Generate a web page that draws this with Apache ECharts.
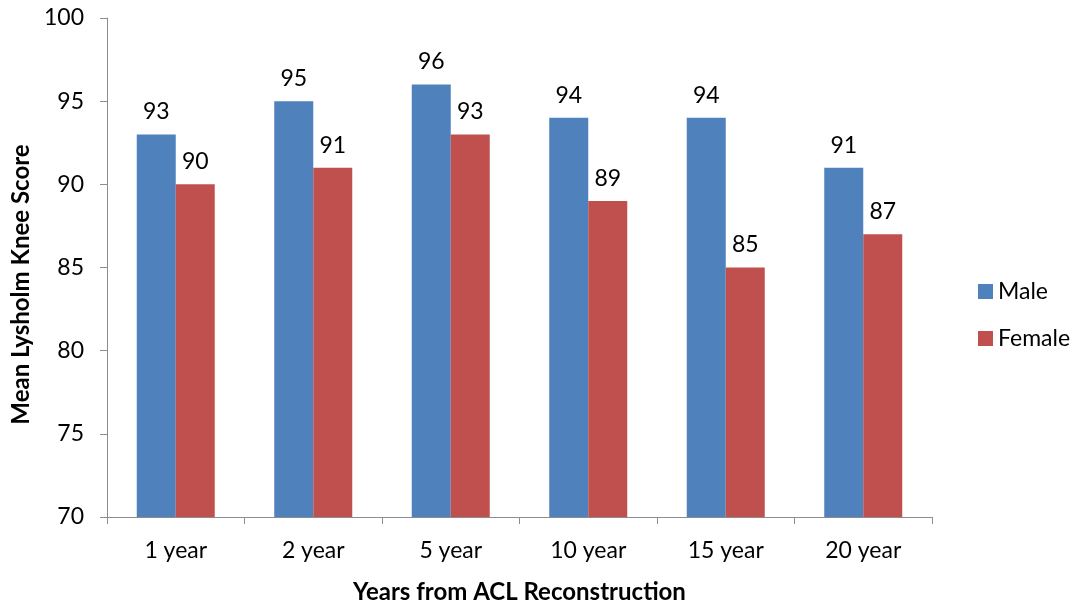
<!DOCTYPE html>
<html>
<head>
<meta charset="utf-8">
<script src="https://cdn.jsdelivr.net/npm/echarts@6/dist/echarts.min.js"></script>
<style>
  html, body { margin: 0; padding: 0; background: #fff; }
  #chart { width: 1078px; height: 609px; }
</style>
</head>
<body>
<div id="chart"></div>
<script>
// Mean Lysholm knee score by years since ACL reconstruction
const categories = ['1 year', '2 year', '5 year', '10 year', '15 year', '20 year'];
const maleScores = [93, 95, 96, 94, 94, 91];
const femaleScores = [90, 91, 93, 89, 85, 87];

const FONT = 'Lato, "Open Sans", sans-serif';
const axisGray = '#8c8c8c';

const chart = echarts.init(document.getElementById('chart'));

const labelStyle = {
  show: true,
  position: 'top',
  distance: 11,
  color: '#000',
  fontFamily: FONT,
  fontSize: 23
};

chart.setOption({
  animation: false,
  textStyle: { fontFamily: FONT },
  grid: { left: 107, right: 146, top: 18, bottom: 92, containLabel: false },
  legend: {
    orient: 'vertical',
    left: 973,
    top: 275,
    itemWidth: 15,
    itemHeight: 15,
    itemGap: 24,
    icon: 'rect',
    textStyle: { fontFamily: FONT, fontSize: 23, color: '#000' },
    data: ['Male', 'Female']
  },
  xAxis: {
    type: 'category',
    data: categories,
    name: 'Years from ACL Reconstruction',
    nameLocation: 'middle',
    nameGap: 63,
    nameTextStyle: { fontFamily: FONT, fontSize: 24, fontWeight: 'bold', color: '#000' },
    axisLine: { lineStyle: { color: axisGray, width: 1 } },
    axisTick: { show: true, length: 7, lineStyle: { color: axisGray } },
    axisLabel: { margin: 22, fontFamily: FONT, fontSize: 23, color: '#000' }
  },
  yAxis: {
    type: 'value',
    min: 70,
    max: 100,
    interval: 5,
    name: 'Mean Lysholm Knee Score',
    nameLocation: 'middle',
    nameGap: 68,
    nameTextStyle: {
      fontFamily: FONT, fontSize: 24, fontWeight: 'bold', color: '#000',
      padding: [0, 34, 0, 0]
    },
    axisLine: { show: true, lineStyle: { color: axisGray, width: 1 } },
    axisTick: { show: true, length: 7, lineStyle: { color: axisGray } },
    axisLabel: { margin: 23, fontFamily: FONT, fontSize: 23, color: '#000' },
    splitLine: { show: false }
  },
  series: [
    {
      name: 'Male',
      type: 'bar',
      data: maleScores,
      barWidth: 39,
      barGap: '0%',
      itemStyle: { color: '#4F81BD' },
      label: labelStyle
    },
    {
      name: 'Female',
      type: 'bar',
      data: femaleScores,
      barWidth: 39,
      itemStyle: { color: '#C0504D' },
      label: labelStyle
    }
  ]
});
</script>
</body>
</html>
